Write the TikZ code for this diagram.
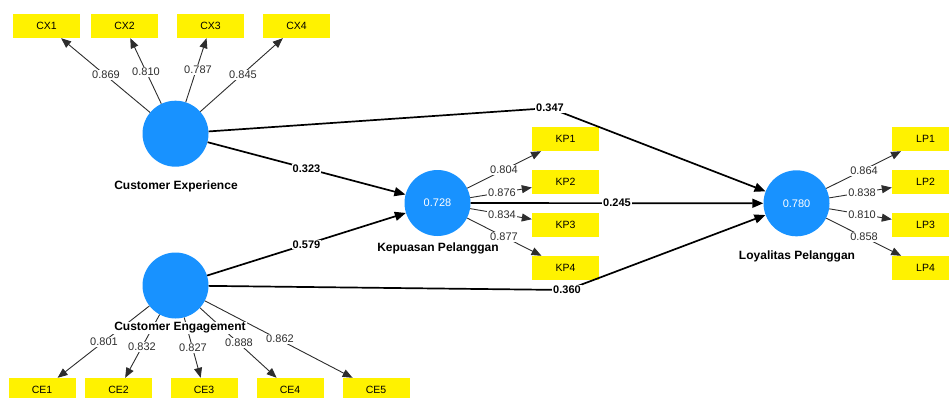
\documentclass[tikz,border=0pt]{standalone}
\usepackage{fontspec}
\setmainfont{Liberation Sans}
\usetikzlibrary{arrows.meta}
\definecolor{lvblue}{RGB}{24,146,255}
\definecolor{dgray}{RGB}{45,45,45}
\begin{document}
\begin{tikzpicture}[x=1pt,y=-1pt,
  lv/.style={circle,fill=lvblue,minimum size=66pt,inner sep=0pt,text=white,font=\fontsize{11}{13}\selectfont},
  ind/.style={fill=yellow,minimum width=67pt,minimum height=24pt,inner sep=0pt,font=\fontsize{10.5}{12}\selectfont},
  loadline/.style={draw=dgray,line width=0.9pt,-{Triangle[length=10pt,width=8pt]}},
  pathline/.style={draw=black,line width=1.7pt,-{Triangle[length=11pt,width=9pt]}},
  ll/.style={fill=white,inner sep=0.8pt,text=dgray,font=\fontsize{11}{13}\selectfont},
  pl/.style={fill=white,inner sep=0.8pt,font=\bfseries\fontsize{11}{13}\selectfont},
  lvname/.style={fill=white,inner sep=1pt,font=\bfseries\fontsize{12}{14}\selectfont}]
\useasboundingbox (0,0) rectangle (949,397);

% latent variables
\node[lv] (cx) at (175.5,133.7) {};
\node[lv] (ce) at (175.5,285.5) {};
\node[lv] (kp) at (437.5,203) {0.728};
\node[lv] (lp) at (796.5,203.3) {0.780};

% indicators
\node[ind] (cx1) at (46.5,26) {CX1};
\node[ind] (cx2) at (124.5,26) {CX2};
\node[ind] (cx3) at (210.5,26) {CX3};
\node[ind] (cx4) at (296.5,26) {CX4};

\node[ind] (ce1) at (42,390) {CE1};
\node[ind] (ce2) at (118.5,390) {CE2};
\node[ind] (ce3) at (204,390) {CE3};
\node[ind] (ce4) at (290,390) {CE4};
\node[ind] (ce5) at (376,390) {CE5};

\node[ind] (kp1) at (565.5,139) {KP1};
\node[ind] (kp2) at (565.5,182) {KP2};
\node[ind] (kp3) at (565.5,225) {KP3};
\node[ind] (kp4) at (565.5,268) {KP4};

\node[ind] (lp1) at (925.5,139) {LP1};
\node[ind] (lp2) at (925.5,182) {LP2};
\node[ind] (lp3) at (925.5,225) {LP3};
\node[ind] (lp4) at (925.5,268) {LP4};

% loadings
\foreach \i in {1,...,4} \draw[loadline] (cx) -- (cx\i);
\foreach \i in {1,...,5} \draw[loadline] (ce) -- (ce\i);
\foreach \i in {1,...,4} \draw[loadline] (kp) -- (kp\i);
\foreach \i in {1,...,4} \draw[loadline] (lp) -- (lp\i);

\node[ll] at (106,75) {0.869};
\node[ll] at (146,72) {0.810};
\node[ll] at (198,70) {0.787};
\node[ll] at (243,75) {0.845};

\node[ll] at (104,342) {0.801};
\node[ll] at (142,347) {0.832};
\node[ll] at (193,348) {0.827};
\node[ll] at (239,343) {0.888};
\node[ll] at (280,339) {0.862};

\node[ll] at (504,170) {0.804};
\node[ll] at (502,193) {0.876};
\node[ll] at (502,215) {0.834};
\node[ll] at (504,237) {0.877};

\node[ll] at (864,171) {0.864};
\node[ll] at (862,193) {0.838};
\node[ll] at (862,215) {0.810};
\node[ll] at (864,237) {0.858};

% structural paths
\coordinate (b1) at (550,108);
\coordinate (b2) at (567,290);
\draw[pathline] (cx) -- (b1) -- (lp);
\draw[pathline] (ce) -- (b2) -- (lp);
\draw[pathline] (cx) -- node[pl] {0.323} (kp);
\draw[pathline] (ce) -- node[pl] {0.579} (kp);
\draw[pathline] (kp) -- node[pl] {0.245} (lp);
\node[pl] (l347) at (b1) {0.347};
\node[pl] (l360) at (b2) {0.360};

% names
\node[lvname] (ncx) at (176,186.5) {Customer Experience};
\node[lvname] (nce) at (180,328) {Customer Engagement};
\node[lvname] (nkp) at (438,248.5) {Kepuasan Pelanggan};
\node[lvname] (nlp) at (797,256.5) {Loyalitas Pelanggan};
\end{tikzpicture}
\end{document}
